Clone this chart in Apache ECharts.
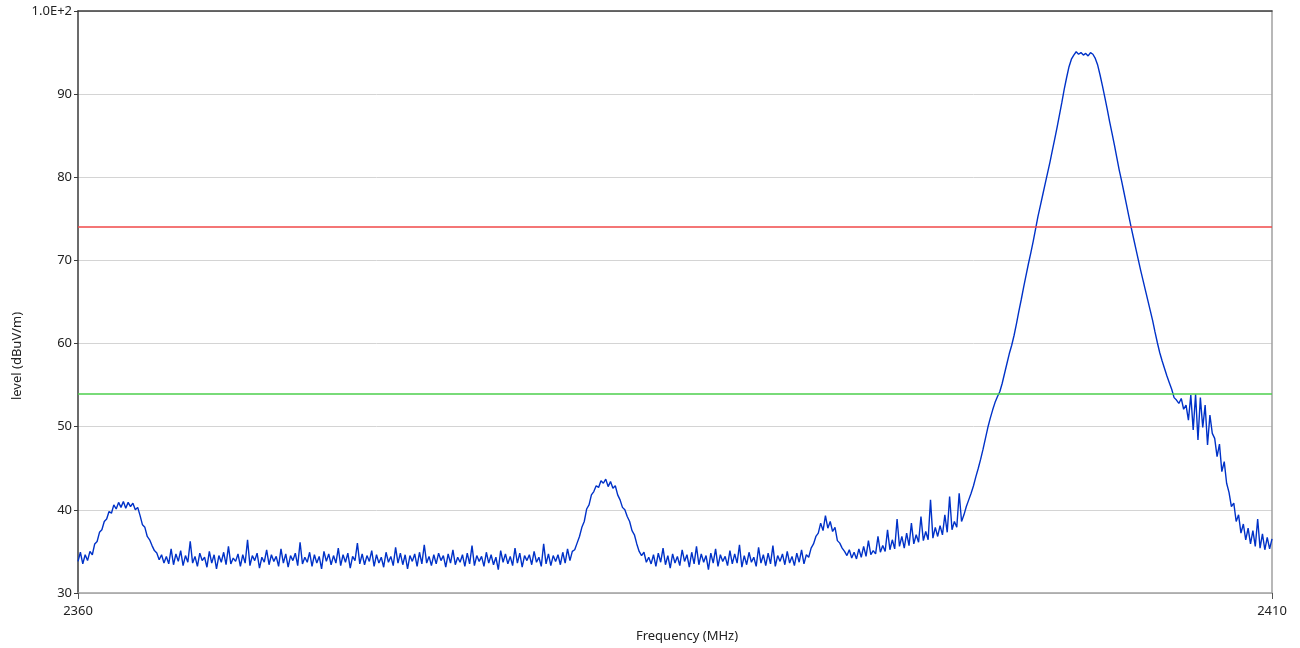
<!DOCTYPE html>
<html>
<head>
<meta charset="utf-8">
<script src="https://cdn.jsdelivr.net/npm/echarts@6/dist/echarts.min.js"></script>
<style>
html,body{margin:0;padding:0;background:#fff;}
#chart{width:1300px;height:648px;}
</style>
</head>
<body>
<div id="chart"></div>
<script>
// ---- data ----
const freqStart = 2360;      // MHz, first sample
const freqStep = 0.1;        // MHz between samples
const xTicks = [2360, 2410];
const yTicks = [30, 40, 50, 60, 70, 80, 90, 100];
const limitRed = 74;         // dBuV/m
const limitGreen = 54;       // dBuV/m
const levels = [
  33.8, 34.9, 33.5, 34.6, 33.9, 35.0, 34.6, 35.9, 36.2, 37.3, // 2360
  37.6, 38.6, 38.9, 39.8, 39.6, 40.6, 40.1, 40.9, 40.3, 41.0, // 2361
  40.2, 40.9, 40.4, 40.8, 40.0, 40.3, 39.3, 38.2, 37.9, 36.8, // 2362
  36.4, 35.7, 35.1, 34.8, 34.0, 34.6, 33.6, 34.4, 33.5, 35.3, // 2363
  33.4, 34.7, 33.8, 35.1, 33.3, 34.5, 33.7, 36.2, 33.6, 34.4, // 2364
  33.2, 34.8, 33.9, 34.3, 33.1, 35.0, 33.6, 34.6, 32.9, 34.5, // 2365
  33.7, 34.9, 33.4, 35.6, 33.5, 34.2, 33.8, 34.7, 33.2, 34.6, // 2366
  33.6, 36.4, 33.3, 34.5, 33.9, 34.8, 33.0, 34.3, 33.7, 35.2, // 2367
  33.4, 34.6, 33.8, 34.4, 33.2, 35.3, 33.6, 34.7, 33.1, 34.5, // 2368
  33.9, 34.8, 33.3, 36.1, 33.5, 34.3, 33.7, 34.9, 33.2, 34.6, // 2369
  33.6, 34.4, 32.9, 35.0, 33.8, 34.7, 33.4, 34.5, 33.6, 35.4, // 2370
  33.3, 34.6, 33.7, 34.8, 33.0, 34.4, 33.9, 36.0, 33.5, 34.7, // 2371
  33.4, 34.5, 33.8, 35.1, 33.2, 34.6, 33.6, 34.3, 33.1, 34.9, // 2372
  33.7, 34.4, 33.3, 35.5, 33.6, 34.8, 33.4, 34.6, 32.9, 34.5, // 2373
  33.8, 34.7, 33.2, 34.9, 33.5, 35.8, 33.6, 34.4, 33.3, 34.6, // 2374
  33.5, 34.8, 33.9, 34.5, 33.1, 34.7, 33.6, 35.2, 33.4, 34.3, // 2375
  33.7, 34.6, 33.2, 34.8, 33.5, 35.7, 33.3, 34.5, 33.8, 34.4, // 2376
  33.2, 34.9, 33.6, 34.6, 33.4, 34.3, 32.8, 35.1, 33.7, 34.7, // 2377
  33.5, 34.4, 33.3, 35.4, 33.6, 34.8, 33.1, 34.5, 33.9, 34.6, // 2378
  33.4, 35.0, 33.7, 34.3, 33.2, 35.9, 33.5, 34.7, 33.3, 34.5, // 2379
  33.8, 34.6, 33.4, 34.9, 33.6, 35.3, 33.9, 35.0, 35.2, 36.0, // 2380
  36.8, 37.9, 38.6, 40.1, 40.6, 41.8, 42.2, 42.9, 42.7, 43.5, // 2381
  43.2, 43.7, 42.8, 43.4, 42.6, 42.9, 41.8, 41.2, 40.3, 40.0, // 2382
  39.2, 38.6, 37.5, 37.0, 35.9, 35.0, 34.5, 34.9, 33.7, 34.3, // 2383
  33.5, 34.6, 33.2, 34.8, 33.7, 35.4, 33.4, 34.5, 33.0, 34.7, // 2384
  33.6, 34.4, 33.3, 35.2, 33.8, 34.6, 33.1, 34.9, 33.5, 35.6, // 2385
  33.4, 34.7, 33.7, 34.5, 32.8, 34.8, 33.6, 35.3, 33.2, 34.6, // 2386
  33.8, 34.4, 33.3, 35.1, 33.5, 34.7, 33.6, 35.8, 33.1, 34.5, // 2387
  33.4, 34.9, 33.7, 34.3, 33.2, 35.5, 33.6, 34.6, 33.3, 34.8, // 2388
  33.5, 35.7, 33.2, 34.5, 33.8, 34.7, 33.4, 35.0, 33.6, 34.4, // 2389
  33.3, 34.8, 33.7, 35.2, 33.5, 34.6, 34.3, 35.4, 35.9, 36.8, // 2390
  37.2, 38.4, 37.5, 39.3, 37.8, 38.6, 37.4, 37.9, 36.3, 36.0, // 2391
  35.4, 35.0, 34.5, 35.2, 34.2, 34.9, 34.1, 35.3, 34.3, 35.6, // 2392
  34.4, 36.3, 34.6, 35.1, 34.7, 36.8, 34.9, 35.7, 35.0, 37.6, // 2393
  35.2, 36.4, 35.3, 38.9, 35.6, 36.8, 35.4, 37.2, 35.7, 38.4, // 2394
  35.9, 37.0, 36.1, 39.2, 36.3, 37.4, 36.4, 41.2, 36.6, 37.9, // 2395
  36.8, 38.1, 37.0, 39.4, 37.3, 41.6, 37.6, 38.6, 37.9, 42.0, // 2396
  38.6, 39.4, 40.4, 41.2, 42.0, 42.9, 44.0, 45.0, 46.1, 47.3, // 2397
  48.6, 49.9, 51.0, 52.0, 52.9, 53.6, 54.2, 55.2, 56.4, 57.6, // 2398
  58.8, 59.8, 61.0, 62.4, 63.9, 65.3, 66.8, 68.2, 69.6, 70.9, // 2399
  72.3, 73.8, 75.3, 76.6, 77.9, 79.2, 80.5, 81.8, 83.2, 84.6, // 2400
  86.0, 87.5, 89.0, 90.6, 92.0, 93.3, 94.2, 94.7, 95.1, 94.8, // 2401
  95.0, 94.7, 94.9, 94.6, 95.0, 94.8, 94.3, 93.5, 92.3, 91.0, // 2402
  89.6, 88.2, 86.7, 85.3, 83.9, 82.4, 80.9, 79.6, 78.2, 76.8, // 2403
  75.4, 74.0, 72.7, 71.4, 70.1, 68.8, 67.6, 66.4, 65.2, 64.0, // 2404
  62.8, 61.4, 60.1, 58.9, 57.9, 57.0, 56.1, 55.3, 54.5, 53.5, // 2405
  53.2, 52.8, 53.4, 52.1, 52.6, 50.8, 53.8, 49.6, 53.9, 48.4, // 2406
  53.5, 49.9, 52.6, 47.8, 51.4, 49.2, 48.6, 46.4, 47.9, 44.6, // 2407
  45.8, 43.2, 42.1, 40.4, 40.8, 38.6, 39.4, 37.2, 38.3, 36.4, // 2408
  37.8, 35.9, 37.5, 35.6, 38.9, 35.4, 37.1, 35.2, 36.7, 35.3, // 2409
  36.5                                                        // 2410
];

const seriesData = levels.map((v, i) => [+(freqStart + i * freqStep).toFixed(2), v]);
const xMin = xTicks[0], xMax = xTicks[xTicks.length - 1];
const yMin = yTicks[0], yMax = yTicks[yTicks.length - 1];
const FONT = "'Noto Sans', 'Open Sans', sans-serif";

const chart = echarts.init(document.getElementById('chart'), null, {renderer: 'canvas'});
chart.setOption({
  animation: false,
  backgroundColor: '#ffffff',
  grid: {left: 78, right: 28, top: 11, bottom: 55, containLabel: false},
  xAxis: [
    {
      type: 'value', min: xMin, max: xMax, interval: xMax - xMin, position: 'bottom',
      axisLine: {onZero: false, lineStyle: {color: '#a0a0a0', width: 1.5}},
      axisTick: {show: true, length: 6, lineStyle: {color: '#555'}},
      axisLabel: {color: '#222', fontSize: 13, fontFamily: FONT, margin: 12, formatter: v => String(v)},
      splitLine: {show: false}
    },
    {
      type: 'value', min: xMin, max: xMax, position: 'top',
      axisLine: {onZero: false, lineStyle: {color: '#3a3a3a', width: 1.5}},
      axisTick: {show: false}, axisLabel: {show: false}, splitLine: {show: false}
    }
  ],
  yAxis: [
    {
      type: 'value', min: yMin, max: yMax, interval: 10, position: 'left',
      axisLine: {show: true, onZero: false, lineStyle: {color: '#3a3a3a', width: 1.5}},
      axisTick: {show: true, length: 4, lineStyle: {color: '#3a3a3a'}},
      axisLabel: {
        color: '#222', fontSize: 13, fontFamily: FONT, margin: 6,
        formatter: v => (v === 100 ? '1.0E+2' : String(v))
      },
      splitLine: {show: true, lineStyle: {color: '#d4d4d4', width: 1}}
    },
    {
      type: 'value', min: yMin, max: yMax, position: 'right',
      axisLine: {show: true, onZero: false, lineStyle: {color: '#a0a0a0', width: 1.5}},
      axisTick: {show: false}, axisLabel: {show: false}, splitLine: {show: false}
    }
  ],
  series: [
    {
      type: 'line',
      data: seriesData,
      showSymbol: false,
      symbol: 'none',
      lineStyle: {color: '#0032c8', width: 1.4},
      z: 3,
      markLine: {
        silent: true,
        symbol: 'none',
        label: {show: false},
        data: [
          {yAxis: limitRed, lineStyle: {color: '#f04848', width: 1.5, type: 'solid'}},
          {yAxis: limitGreen, lineStyle: {color: '#4ccf4c', width: 1.5, type: 'solid'}}
        ]
      }
    }
  ],
  graphic: [
    {
      type: 'text', x: 687, y: 636,
      style: {text: 'Frequency (MHz)', fill: '#222', font: "13px 'Noto Sans', sans-serif", align: 'center', verticalAlign: 'middle'}
    },
    {
      type: 'text', x: 17, y: 356, rotation: Math.PI / 2,
      style: {text: 'level (dBuV/m)', fill: '#222', font: "13px 'Noto Sans', sans-serif", align: 'center', verticalAlign: 'middle'}
    }
  ]
});
</script>
</body>
</html>
